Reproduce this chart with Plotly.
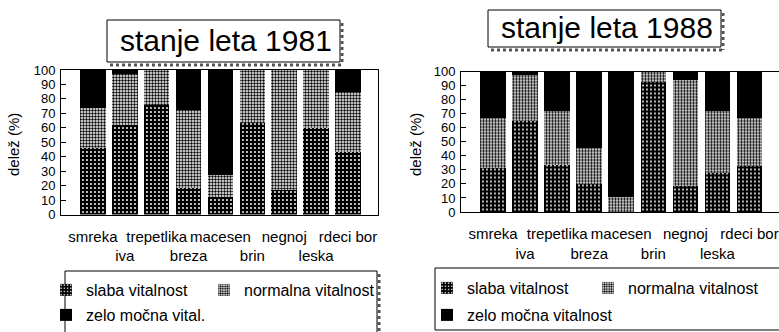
import plotly.graph_objects as go

# Tree species (categories) and vitality shares in percent
categories = ["smreka", "iva", "trepetlika", "breza", "macesen",
              "brin", "negnoj", "leska", "rdeci bor"]

slaba_1981 = [46, 62, 76, 18, 12, 63, 17, 60, 43]
normalna_1981 = [28, 35, 24, 54, 15, 37, 83, 40, 42]
zelo_1981 = [26, 3, 0, 28, 73, 0, 0, 0, 15]

slaba_1988 = [32, 65, 34, 20, 0, 93, 19, 28, 33]
normalna_1988 = [35, 33, 38, 26, 11, 7, 75, 44, 34]
zelo_1988 = [33, 2, 28, 54, 89, 0, 6, 28, 33]

y_ticks = [0, 10, 20, 30, 40, 50, 60, 70, 80, 90, 100]

titles = ["stanje leta 1981", "stanje leta 1988"]
y_title = "delež (%)"

W, H = 779, 332
FONT = "Liberation Sans, Arial, sans-serif"


def px(x):
    return x / W


def py(y):
    return 1 - y / H


pat_slaba = dict(shape=".", bgcolor="black", fgcolor="white", size=4,
                 solidity=0.18, fillmode="replace")
pat_normalna = dict(shape=".", bgcolor="white", fgcolor="black", size=3,
                    solidity=0.5, fillmode="replace")

# labels alternate between two rows so that neighbours don't collide
ticktext = [c if i % 2 == 0 else "<br>" + c for i, c in enumerate(categories)]

fig = go.Figure()

panels = [
    dict(xa="x", ya="y", data=(slaba_1981, normalna_1981, zelo_1981),
         names=("slaba vitalnost", "normalna vitalnost", "zelo močna vital."),
         legends=("legend", "legend2", "legend3")),
    dict(xa="x2", ya="y2", data=(slaba_1988, normalna_1988, zelo_1988),
         names=("slaba vitalnost", "normalna vitalnost", "zelo močna vitalnost"),
         legends=("legend4", "legend5", "legend6")),
]

for p in panels:
    s, n, z = p["data"]
    styles = [dict(color="black", pattern=pat_slaba),
              dict(color="white", pattern=pat_normalna),
              dict(color="black")]
    for vals, name, leg, mk in zip((s, n, z), p["names"], p["legends"], styles):
        fig.add_trace(go.Bar(
            x=categories, y=vals, name=name, width=0.8, showlegend=True,
            marker=dict(line=dict(width=0), **mk),
            xaxis=p["xa"], yaxis=p["ya"], legend=leg,
            hoverinfo="skip",
        ))

axis_common = dict(showgrid=False, zeroline=False, showline=True,
                   linecolor="black", linewidth=1, automargin=False)
xtick_font = dict(family=FONT, size=15, color="black")
ytick_font = dict(family=FONT, size=13, color="black")

fig.update_layout(
    template="none",
    width=W, height=H, autosize=False,
    margin=dict(l=0, r=0, t=0, b=0),
    paper_bgcolor="white", plot_bgcolor="white",
    barmode="stack", bargap=0, showlegend=True,
    font=dict(family=FONT, color="black"),
    xaxis=dict(domain=[px(61), px(378)], range=[-1.0, 8.94], anchor="y",
               mirror=True, ticks="", tickmode="array", tickvals=categories,
               ticktext=ticktext, tickangle=0, ticklabelstandoff=8,
               tickfont=xtick_font, **axis_common),
    yaxis=dict(domain=[py(214.5), py(70)], range=[0, 100], anchor="x",
               mirror=True, ticks="inside", ticklen=5, tickcolor="black",
               tickvals=y_ticks, tickfont=ytick_font, ticklabelstandoff=2,
               **axis_common),
    xaxis2=dict(domain=[px(461), 1], range=[-1.0, 8.92], anchor="y2",
                mirror=True, ticks="", tickmode="array", tickvals=categories,
                ticktext=ticktext, tickangle=0, ticklabelstandoff=8,
                tickfont=xtick_font, **axis_common),
    yaxis2=dict(domain=[py(212), py(71.5)], range=[0, 100], anchor="x2",
                mirror=False, ticks="inside", ticklen=5, tickcolor="black",
                tickvals=y_ticks, tickfont=ytick_font, ticklabelstandoff=2,
                **axis_common),
)

# one legend per entry, placed on the two-column legend grid
leg_font = dict(family=FONT, size=16, color="black")
legend_pos = {
    "legend": (46, 290), "legend2": (204, 290), "legend3": (46, 315),
    "legend4": (427, 288), "legend5": (588, 288), "legend6": (427, 315),
}
for key, (lx, ly) in legend_pos.items():
    fig.update_layout({key: dict(x=px(lx), y=py(ly), xanchor="left",
                                 yanchor="middle", bgcolor="rgba(0,0,0,0)",
                                 borderwidth=0, font=leg_font, visible=True,
                                 orientation="v", itemclick=False,
                                 itemdoubleclick=False)})

shapes = []
annotations = []


def box(x0, y0, x1, y1, shadow_right=True, shadow_bottom=True):
    shapes.append(dict(type="rect", xref="paper", yref="paper",
                       x0=px(x0), x1=px(x1), y0=py(y1), y1=py(y0),
                       line=dict(color="black", width=1),
                       fillcolor="white", layer="below"))
    if shadow_right:
        shapes.append(dict(type="line", xref="paper", yref="paper",
                           x0=px(x1 + 2), x1=px(x1 + 2),
                           y0=py(y0 + 3), y1=py(y1 + 3),
                           line=dict(color="#555555", width=3, dash="dot")))
    if shadow_bottom:
        shapes.append(dict(type="line", xref="paper", yref="paper",
                           x0=px(x0 + 3), x1=px(x1 + 3),
                           y0=py(y1 + 3), y1=py(y1 + 3),
                           line=dict(color="#555555", width=3, dash="dot")))


# title frames
box(107, 20, 340, 62)
box(488, 10, 721, 47)
# legend frames
box(65, 271, 377, 334, shadow_bottom=False)
box(435, 268, 781, 330, shadow_right=False, shadow_bottom=False)

annotations.append(dict(text=titles[0], xref="paper", yref="paper",
                        x=px(226), y=py(41), xanchor="center", yanchor="middle",
                        showarrow=False, font=dict(family=FONT, size=30)))
annotations.append(dict(text=titles[1], xref="paper", yref="paper",
                        x=px(606.5), y=py(28), xanchor="center", yanchor="middle",
                        showarrow=False, font=dict(family=FONT, size=30)))
for xc in (13, 415):
    annotations.append(dict(text=y_title, xref="paper", yref="paper",
                            x=px(xc), y=py(145), xanchor="center",
                            yanchor="middle", textangle=-90, showarrow=False,
                            font=dict(family=FONT, size=15)))

fig.update_layout(shapes=shapes, annotations=annotations)

fig.write_html("out.html")
